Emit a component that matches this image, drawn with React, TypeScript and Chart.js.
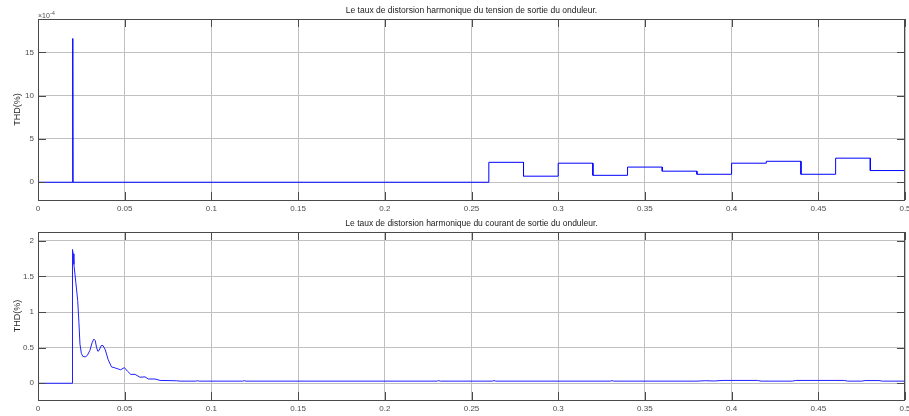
import React, { useEffect, useRef } from "react";
import { Chart, registerables } from "chart.js";

Chart.register(...registerables);

// ---------- data ----------
const titleTop = "Le taux de distorsion harmonique du tension de sortie du onduleur.";
const titleBottom = "Le taux de distorsion harmonique du courant de sortie du onduleur.";
const yLabel = "THD(%)";

// tension THD (units of 1e-4 %)
const spikeX = [0, 0.02, 0.02, 0.0201, 0.0201, 0.0202];
const spikeY = [0, 0, 16.6, 0, 13.8, 0];
// value held until each step end
const stepEnd = [0.26, 0.28, 0.3, 0.32, 0.34, 0.36, 0.38, 0.4, 0.42, 0.44, 0.46, 0.48, 0.5];
const stepValue = [0, 2.3, 0.7, 2.2, 0.8, 1.75, 1.28, 0.92, 2.2, 2.42, 0.92, 2.78, 1.35];

// courant THD (%)
const curX = [
  0, 0.0198, 0.0199, 0.0203, 0.0207, 0.0218, 0.0229, 0.0236, 0.0242, 0.025,
  0.0258, 0.0272, 0.0284, 0.0299, 0.0312, 0.0322, 0.033, 0.0338, 0.0345, 0.0352,
  0.0365, 0.0375, 0.0388, 0.0405, 0.0424, 0.0445, 0.0463, 0.0477, 0.0498, 0.0516,
  0.0535, 0.056, 0.0588, 0.0617, 0.0636, 0.0675, 0.0704, 0.08, 0.082, 0.091,
  0.092, 0.093, 0.118, 0.119, 0.12, 0.23, 0.231, 0.232, 0.262, 0.263,
  0.264, 0.33, 0.331, 0.332, 0.38, 0.385, 0.39, 0.395, 0.415, 0.417,
  0.435, 0.437, 0.465, 0.467, 0.475, 0.477, 0.485, 0.487, 0.5,
];
const curY = [
  0, 0, 1.88, 1.82, 1.67, 1.42, 1.16, 0.85, 0.55, 0.42,
  0.38, 0.37, 0.39, 0.46, 0.57, 0.62, 0.6, 0.5, 0.45, 0.46,
  0.53, 0.53, 0.47, 0.33, 0.23, 0.215, 0.2, 0.19, 0.22, 0.17,
  0.125, 0.125, 0.085, 0.09, 0.06, 0.06, 0.04, 0.035, 0.03, 0.03,
  0.036, 0.03, 0.03, 0.036, 0.03, 0.03, 0.037, 0.03, 0.03, 0.038,
  0.03, 0.03, 0.037, 0.03, 0.03, 0.036, 0.032, 0.04, 0.04, 0.03,
  0.03, 0.04, 0.04, 0.03, 0.03, 0.038, 0.038, 0.03, 0.03,
];

const xTickStep = 0.05;
const topYStep = 5;
const bottomYStep = 0.5;

// ---------- helpers ----------
const FONT = "'Liberation Sans', Arial, sans-serif";
const LABEL_COLOR = "#4d4d4d";
const BOX_COLOR = "#4a4a4a";
const GRID_COLOR = "#c0c0c0";

function fmt(v: number) {
  return String(Number(v.toFixed(3)));
}

function matlabPlugin(title: string, exponent: string | null) {
  return {
    id: "matlabAxes",
    afterDraw(chart: any) {
      const { ctx, chartArea } = chart;
      const { left, right, top, bottom } = chartArea;
      const xs = chart.scales.x;
      const ys = chart.scales.y;
      const tl = 8;
      ctx.save();
      ctx.strokeStyle = BOX_COLOR;
      ctx.lineWidth = 1;
      ctx.beginPath();
      xs.ticks.forEach((t: any) => {
        const px = Math.round(xs.getPixelForValue(t.value)) + 0.5;
        ctx.moveTo(px, bottom);
        ctx.lineTo(px, bottom - tl);
        ctx.moveTo(px, top);
        ctx.lineTo(px, top + tl);
      });
      ys.ticks.forEach((t: any) => {
        const py = Math.round(ys.getPixelForValue(t.value)) + 0.5;
        ctx.moveTo(left, py);
        ctx.lineTo(left + tl, py);
        ctx.moveTo(right, py);
        ctx.lineTo(right - tl, py);
      });
      ctx.stroke();
      ctx.strokeRect(Math.round(left) + 0.5, Math.round(top) + 0.5, Math.round(right - left) - 1, Math.round(bottom - top));

      // title
      ctx.fillStyle = "#1a1a1a";
      ctx.font = `8.5px ${FONT}`;
      ctx.textAlign = "center";
      ctx.textBaseline = "middle";
      ctx.fillText(title, (left + right) / 2, top - 8.5);

      // y label
      ctx.save();
      ctx.translate(18, (top + bottom) / 2);
      ctx.rotate(-Math.PI / 2);
      ctx.font = `9px ${FONT}`;
      ctx.fillStyle = "#262626";
      ctx.fillText(yLabel, 0, 0);
      ctx.restore();

      if (exponent) {
        ctx.fillStyle = LABEL_COLOR;
        ctx.textAlign = "left";
        ctx.textBaseline = "alphabetic";
        ctx.font = `7px ${FONT}`;
        ctx.fillText("\u00d710", left, top - 1);
        const w = ctx.measureText("\u00d710").width;
        ctx.font = `5px ${FONT}`;
        ctx.fillText(exponent, left + w + 0.5, top - 4);
      }
      ctx.restore();
    },
  };
}

function makeOptions(yMin: number, yMax: number, yStep: number, xAxisH: number, topPad: number, tickFmt: (v: number) => string) {
  return {
    responsive: false,
    animation: false as const,
    layout: { padding: { left: 0, right: 4, top: topPad, bottom: 0 } },
    plugins: { legend: { display: false }, tooltip: { enabled: false }, title: { display: false } },
    elements: { point: { radius: 0 } },
    scales: {
      x: {
        type: "linear" as const,
        min: 0,
        max: 0.5,
        border: { display: false },
        grid: { color: GRID_COLOR, drawTicks: false, lineWidth: 1 },
        ticks: {
          stepSize: xTickStep,
          includeBounds: false,
          padding: 4,
          color: LABEL_COLOR,
          font: { family: FONT, size: 8 },
          maxRotation: 0,
          autoSkip: false,
          callback: (v: any) => fmt(Number(v)),
        },
        afterFit: (s: any) => {
          s.height = xAxisH;
          s.paddingLeft = 0;
          s.paddingRight = 0;
        },
      },
      y: {
        type: "linear" as const,
        min: yMin,
        max: yMax,
        border: { display: false },
        grid: { color: GRID_COLOR, drawTicks: false, lineWidth: 1 },
        ticks: {
          stepSize: yStep,
          includeBounds: false,
          padding: 4,
          color: LABEL_COLOR,
          font: { family: FONT, size: 8 },
          callback: (v: any) => tickFmt(Number(v)),
        },
        afterFit: (s: any) => {
          s.width = 38;
          s.paddingTop = 0;
          s.paddingBottom = 0;
        },
      },
    },
  };
}

export default function App() {
  const topRef = useRef<HTMLCanvasElement>(null);
  const botRef = useRef<HTMLCanvasElement>(null);

  useEffect(() => {
    const spikePts = spikeX.map((x, i) => ({ x, y: spikeY[i] }));
    // stepped 'before': horizontal at previous value until target x, then vertical
    const stepPts: { x: number; y: number }[] = [{ x: spikeX[spikeX.length - 1], y: 0 }];
    stepEnd.forEach((x, i) => {
      stepPts.push({ x, y: stepValue[i] });
      if (i + 1 < stepValue.length) stepPts.push({ x, y: stepValue[i + 1] });
    });

    const botPts = curX.map((x, i) => ({ x, y: curY[i] }));

    const c1 = new Chart(topRef.current!, {
      type: "line",
      data: {
        datasets: [
          {
            data: spikePts,
            borderColor: "#0000ff",
            borderWidth: 1,
            fill: false,
            pointRadius: 0,
          } as any,
          {
            data: stepPts,
            borderColor: "#0000ff",
            borderWidth: 1,
            fill: false,
            pointRadius: 0,
          } as any,
        ],
      },
      options: makeOptions(-2.05, 18.85, topYStep, 12, 19, (v) => fmt(v)) as any,
      plugins: [matlabPlugin(titleTop, "-4")],
    });

    const c2 = new Chart(botRef.current!, {
      type: "line",
      data: {
        datasets: [
          {
            data: botPts,
            borderColor: "#1f1fff",
            borderWidth: 1,
            tension: 0,
            fill: false,
            pointRadius: 0,
          } as any,
        ],
      },
      options: makeOptions(-0.235, 2.125, bottomYStep, 16, 20, (v) => fmt(v)) as any,
      plugins: [matlabPlugin(titleBottom, null)],
    });

    return () => {
      c1.destroy();
      c2.destroy();
    };
  }, []);

  return (
    <div style={{ position: "fixed", left: 0, top: 0, width: 909, height: 416, background: "#ffffff" }}>
      <canvas ref={topRef} width={909} height={212} style={{ position: "absolute", left: 0, top: 0 }} />
      <canvas ref={botRef} width={909} height={204} style={{ position: "absolute", left: 0, top: 212 }} />
    </div>
  );
}
